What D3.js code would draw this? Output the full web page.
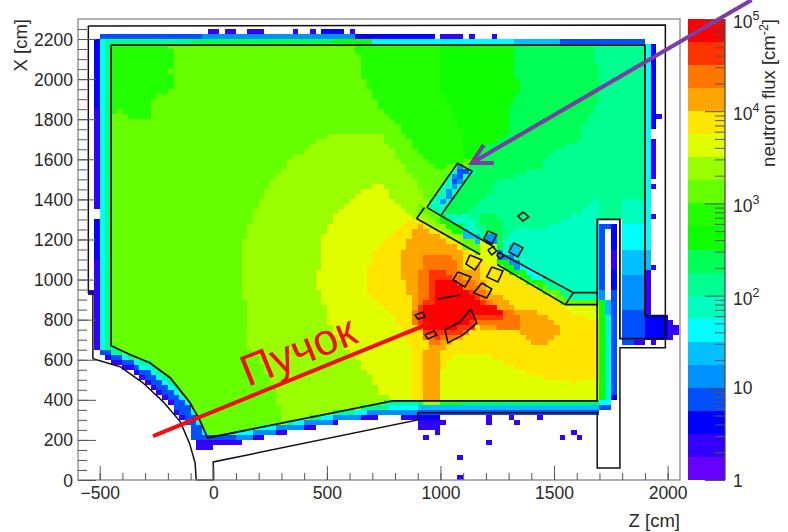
<!DOCTYPE html>
<html>
<head>
<meta charset="utf-8">
<script src="https://d3js.org/d3.v7.min.js"></script>
<style>
  body { margin: 0; background: #fff; }
  svg text { font-family: "Liberation Sans", sans-serif; fill: #2a2a2a; }
</style>
</head>
<body>
<svg width="788" height="532"></svg>
<script>
// flux palette, one colour per colorbar band (20 bands over 1..1e5), bottom to top
var palette = ["#6600ff","#3300ff","#0000ff","#0050ff","#0090ff","#00c0ff","#00ffff","#00ffc0","#00ff90","#00ff55",
               "#10ff00","#22ff00","#66ff00","#99ff00","#e0ff00","#ffe600","#ffa500","#ff7700","#ff3300","#ff0000"];

var zTicks = [-500, 0, 500, 1000, 1500, 2000];
var xTicks = [0, 200, 400, 600, 800, 1000, 1200, 1400, 1600, 1800, 2000, 2200];
var binSize = 25; // cm

// all outlines below are [z, x] in cm

// black walls
var outerWall = [[-550,2265],[1990,2270],[1990,660],[1790,660],[1790,60],[1690,60],[1690,335],[900,335],[900,300],[0,90],[0,0],[-75,0],[-80,85],[-105,185],[-145,290],[-220,390],[-310,485],[-410,565],[-530,605],[-530,935],[-550,935],[-550,2265]];
var hallOutline = [[-450,2170],[1900,2170],[1900,820],[1990,820],[1990,705],[1790,705],[1790,1300],[1690,1300],[1690,395],[790,395],[-25,210],[-60,300],[-105,390],[-190,510],[-280,585],[-365,625],[-450,670],[-450,2170]];
var wallLines = [
  [[895,1305],[1175,1125]], [[1250,1075],[1550,875],[1690,875]],
  [[940,1360],[1240,1160]], [[1275,1125],[1585,935],[1690,935]],
  [[895,1305],[930,1360]], [[1585,935],[1550,875]],
  [[940,1360],[1075,1580],[1140,1540],[1005,1325]],
  [[989,903],[1086,923]]
];
var blocks = [
  [[1365,1337],[1389,1312],[1363,1292],[1341,1317]],
  [[1209,1243],[1248,1223],[1226,1178],[1191,1203]],
  [[1323,1183],[1363,1158],[1341,1113],[1301,1138]],
  [[1130,1123],[1182,1098],[1152,1048],[1112,1078]],
  [[1077,1038],[1134,1013],[1108,963],[1055,998]],
  [[1182,983],[1226,953],[1204,908],[1147,933]],
  [[1226,1063],[1275,1043],[1253,988],[1204,1013]],
  [[1209,1148],[1231,1163],[1248,1143],[1226,1123]],
  [[1248,1123],[1262,1138],[1279,1118],[1262,1103]],
  [[923,838],[888,823],[901,803],[932,813]],
  [[932,724],[971,744],[984,724],[945,704]],
  [[1134,853],[1086,788],[1020,749],[1033,684],[1099,724],[1160,783]]
];

// flux map outlines. rim ones sit outside the hall, painted first
var rimPurple = [[-525,2200],[-450,2200],[-300,900],[100,500],[790,395],[900,395],[900,315],[734,315],[572,293],[469,265],[249,220],[132,190],[51,165],[-73,158],[-103,258],[-147,300],[-191,383],[-271,466],[-337,524],[-396,557],[-469,607],[-521,657]];
var rimBlue = [[-505,670],[-450,670],[-300,900],[100,500],[790,395],[900,395],[900,325],[734,325],[572,300],[469,275],[249,230],[132,200],[-95,208],[-117,300],[-169,366],[-249,474],[-359,562],[-440,607],[-499,632]];
var rimSlope = [[100,500],[790,395],[900,395],[900,325],[734,325],[572,300],[469,275],[249,230],[132,200],[100,205]];
var rimCyan = [[-500,2200],[-450,2200],[-300,900],[100,500],[790,395],[900,395],[900,345],[734,345],[572,325],[469,300],[249,255],[132,225],[-40,225],[-70,280],[-110,360],[-200,470],[-330,575],[-430,625],[-500,655]];
var rimGreen = [[-475,2200],[-450,2200],[-300,900],[100,500],[790,395],[900,395],[900,370],[734,360],[469,310],[249,270],[10,225],[-30,225],[-60,300],[-100,385],[-190,490],[-320,590],[-475,650]];
var rimLayers = [[1,rimPurple],[3,rimBlue],[4,rimSlope],[6,rimCyan],[8,rimGreen]];

var patchUpperLeft = [[-450,2175],[-220,2175],[-175,2130],[-190,2030],[-175,1970],[-220,1930],[-270,1880],[-270,1805],[-365,1805],[-410,1845],[-450,1830]];
var green11 = [[632,2180],[654,2006],[703,1906],[734,1856],[822,1761],[895,1647],[984,1537],[1077,1582],[1143,1597],[1204,1662],[1297,1731],[1297,1831],[1341,1931],[1328,2180]];
var green10 = [[1000,2180],[1000,2000],[1020,1900],[1100,1730],[1108,1600],[1143,1597],[1204,1662],[1297,1731],[1297,1831],[1341,1931],[1328,2180]];
var aqua9 = [[1328,2180],[1341,1931],[1297,1831],[1297,1731],[1204,1662],[1143,1597],[1130,1530],[1000,1350],[1240,1160],[1585,935],[1690,935],[1690,1300],[1790,1300],[1790,705],[1900,705],[1900,2180]];
var aqua8 = [[1671,2180],[1671,2106],[1702,2061],[1702,1896],[1645,1796],[1614,1697],[1482,1632],[1451,1562],[1249,1487],[1160,1362],[1112,1322],[1000,1340],[1240,1150],[1585,925],[1900,925],[1900,2180]];
var aqua7a = [[1265,1190],[1340,1250],[1460,1260],[1610,1325],[1690,1400],[1690,900],[1500,900],[1265,1100]];
var aqua7b = [[1005,1325],[1125,1335],[1170,1240],[1215,1150],[940,1360]];
var wedge9 = [[1240,1139],[1284,1131],[1284,1247],[1262,1314],[1174,1314],[1203,1247]];
var pillarSide7 = [[1790,1400],[1900,1400],[1900,1265],[1790,1265]];
var pillarSide6 = [[1790,1265],[1900,1265],[1900,1150],[1790,1150]];
var pillarSide5 = [[1790,1150],[1900,1150],[1900,1035],[1790,1035]];
var pillarSide4 = [[1790,1035],[1900,1035],[1900,860],[1790,860]];
var pillarSide3 = [[1790,860],[1900,860],[1900,705],[1790,705]];
var pocket2 = [[1900,820],[1990,820],[1990,705],[1900,705]];
var lime13 = [[412,1657],[478,1707],[527,1731],[734,1731],[808,1612],[879,1512],[945,1372],[895,1305],[900,390],[300,270],[280,434],[161,664],[148,763],[131,998],[131,1173],[153,1258],[175,1322],[219,1407],[280,1522],[351,1607]];
var lime14 = [[527,1322],[588,1372],[632,1422],[703,1472],[734,1482],[786,1412],[844,1347],[895,1305],[1550,875],[1690,875],[1690,395],[790,395],[734,434],[690,514],[637,599],[558,699],[505,798],[478,898],[448,998],[478,1123],[478,1223],[514,1272]];
var yellow15 = [[844,1287],[756,1198],[698,1123],[676,998],[681,933],[734,883],[800,798],[866,674],[879,514],[879,395],[1006,395],[1006,539],[1028,599],[1130,639],[1262,599],[1394,524],[1583,484],[1689,509],[1689,798],[1570,838],[1504,908],[1174,1108],[895,1307]];
var orange16 = [[902,1272],[858,1197],[829,1122],[829,1014],[858,931],[888,840],[880,782],[924,748],[954,715],[932,615],[925,395],[985,395],[1005,499],[1005,632],[1027,682],[1115,715],[1159,773],[1218,748],[1350,748],[1430,657],[1475,690],[1526,740],[1497,807],[1453,831],[1350,848],[1276,906],[1232,931],[1174,1014],[1188,1031],[1174,1064],[1108,1056],[1100,1139]];
var orange17 = [[954,1122],[1042,1131],[1078,1073],[1078,1031],[1181,956],[1203,915],[1276,848],[1350,831],[1350,748],[1262,748],[1218,782],[1159,782],[1130,732],[1027,698],[998,682],[954,682],[924,732],[880,782],[880,831],[902,898],[902,1048],[924,1064],[924,1106]];
var red18 = [[954,1048],[1027,1048],[1071,989],[1174,915],[1218,873],[1276,831],[1276,806],[1203,806],[1159,790],[1130,748],[1042,723],[983,707],[924,732],[902,798],[910,873],[954,898]];
var red19 = [[975,1006],[1056,1006],[1086,973],[1130,940],[1174,890],[1232,873],[1269,848],[1269,815],[1203,831],[1152,823],[1100,773],[1027,748],[954,748],[924,773],[924,865],[975,881]];
var lBox7 = [[940,1360],[1075,1580],[1140,1540],[1005,1325]];
var lBox4 = [[984,1347],[1020,1372],[1121,1537],[1086,1567]];
var lBox3 = [[1050,1480],[1070,1480],[1120,1545],[1100,1560]];
var blockA4 = [[1200,1175],[1250,1175],[1250,1225],[1200,1225]];
var blockB5 = [[1310,1125],[1355,1125],[1355,1175],[1310,1175]];
// strip between the two long diagonal wall lines
var strip = [
  [13,[[895,1305],[1000,1236],[1000,1278],[895,1347]]],
  [12,[[895,1347],[1000,1278],[1000,1321],[895,1390]]],
  [13,[[1000,1236],[1100,1171],[1100,1213],[1000,1278]]],
  [10,[[1000,1278],[1100,1213],[1100,1256],[1000,1321]]],
  [12,[[1100,1171],[1175,1121],[1175,1163],[1100,1213]]],
  [5,[[1100,1213],[1175,1163],[1175,1206],[1100,1256]]],
  [14,[[1175,1121],[1250,1072],[1250,1157],[1175,1206]]],
  [10,[[1250,1072],[1350,1006],[1350,1048],[1250,1114]]],
  [4,[[1250,1114],[1350,1048],[1350,1091],[1250,1157]]],
  [11,[[1350,1006],[1450,941],[1450,983],[1350,1048]]],
  [6,[[1350,1048],[1450,983],[1450,1026],[1350,1091]]],
  [12,[[1450,941],[1560,868],[1560,910],[1450,983]]],
  [8,[[1450,983],[1560,910],[1590,935],[1450,1026]]]
];
var hallLayers = [[12,hallOutline],[11,patchUpperLeft],[11,green11],[10,green10],[9,aqua9],[8,aqua8],[7,aqua7a],[7,aqua7b],[9,wedge9],
  [7,pillarSide7],[6,pillarSide6],[5,pillarSide5],[4,pillarSide4],[3,pillarSide3],[2,pocket2],
  [13,lime13],[14,lime14],[15,yellow15],[16,orange16],[17,orange17],[18,red18],[19,red19],
  [7,lBox7],[4,lBox4],[3,lBox3],[4,blockA4],[5,blockB5]].concat(strip);

// single blocks of cells [z0, z1, x0, x1, band]; null leaves the bin empty
var topRows = [[-500,-45,2200,2225,3],[-45,625,2200,2225,4],[625,975,2200,2225,2],[1000,1100,2200,2225,1],[1125,1150,2200,2225,1],[1225,1250,2200,2225,1],
  [-25,25,2225,2250,1],[50,100,2225,2250,1],[150,225,2225,2250,1],[350,375,2225,2250,1],[425,450,2225,2250,1],[475,575,2225,2250,2],[600,625,2225,2250,1],
  [-475,-100,2175,2200,8],[-100,525,2175,2200,9],[525,700,2175,2200,10],[700,1320,2175,2200,6],[1320,1525,2175,2200,5],[1525,1900,2175,2200,3]];
var sideCols = [[-525,-500,1975,2000,null],[-525,-500,1300,1350,null],[-525,-500,1850,2200,2],[-525,-500,1100,1300,2],[-550,-525,925,950,1],
  [1900,1925,1150,2175,6],[1900,1925,1050,1150,5],[1900,1925,830,1050,1],[1925,1950,1750,2175,2],[1925,1950,1500,1700,1],[1925,1950,1450,1475,1],
  [1925,1950,1300,1325,1],[1950,1975,1800,1825,1],[1925,1950,1050,1075,1]];
var pillarCells = [[1700,1725,950,1275,3],[1700,1725,895,950,4],[1700,1725,400,895,10],[1725,1750,1250,1275,3],[1725,1750,825,910,5],[1725,1750,400,825,7],
  [1750,1775,950,1275,2],[1750,1775,1050,1150,1],[1750,1775,435,950,3],[1700,1750,375,400,6],[1700,1750,350,375,3],[1750,1775,400,435,2]];
var pocketCells = [[1990,2025,705,810,1],[2025,2050,735,770,1],[1800,1900,680,705,3],[1850,1900,680,705,1],[1925,1950,675,700,1]];
var floorCells = [[900,1700,375,400,9],[900,1700,350,375,5],[900,1700,325,350,3],[925,1000,375,400,13],[1000,1100,375,400,11],[825,900,300,325,1],
  [900,1000,300,335,2],[1000,1025,275,300,1],[900,1000,250,300,1],[975,1000,225,250,1],[925,950,200,225,1],
  [1200,1225,275,335,1],[1200,1225,175,200,1],[1300,1325,300,335,1],[1325,1350,275,300,1],[1425,1450,300,325,1],
  [1525,1550,200,225,1],[1575,1600,225,250,1],[1600,1625,200,225,1],[1075,1100,100,125,1],[1075,1100,0,25,1],[-350,-325,1725,1750,11]];
var extraCells = topRows.concat(sideCols, pillarCells, pocketCells, floorCells);

// annotation lines, also in cm
var beamLine = [[-265,219],[954,783]];
var arrowLine = [[2370,2395],[1138,1582]];
var arrowHead = [[1191,1672],[1138,1582],[1235,1582]];

var svg = d3.select("svg");
var x = d3.scaleLinear().domain([-595.5, 2054.5]).range([78, 680]);
var y = d3.scaleLinear().domain([0, 2300]).range([480, 19]);
var fluxY = d3.scaleLog().domain([1, 1e5]).range([480, 19]);

// build the bins, last outline containing the bin centre wins
var cells = [];
d3.range(-600, 2050, binSize).forEach(function(z) {
  d3.range(0, 2300, binSize).forEach(function(h) {
    var p = [z + binSize / 2, h + binSize / 2], band = null;
    rimLayers.forEach(function(l) { if (d3.polygonContains(l[1], p)) band = l[0]; });
    if (d3.polygonContains(hallOutline, p)) {
      hallLayers.forEach(function(l) { if (d3.polygonContains(l[1], p)) band = l[0]; });
    } else {
      extraCells.forEach(function(c) { if (p[0] > c[0] && p[0] < c[1] && p[1] > c[2] && p[1] < c[3]) band = c[4]; });
    }
    if (band !== null) cells.push({z: z, h: h, band: band});
  });
});

svg.append("g").attr("shape-rendering", "crispEdges")
  .selectAll("rect").data(cells).enter().append("rect")
    .attr("x", function(d) { return x(d.z); })
    .attr("y", function(d) { return y(d.h + binSize); })
    .attr("width", function(d) { return x(d.z + binSize) - x(d.z); })
    .attr("height", function(d) { return y(d.h) - y(d.h + binSize); })
    .attr("fill", function(d) { return palette[d.band]; });

// walls
var line = d3.line().x(function(d) { return x(d[0]); }).y(function(d) { return y(d[1]); });
var walls = svg.append("g").attr("fill", "none").attr("stroke", "#111");
walls.append("path").attr("d", line(outerWall)).attr("stroke-width", 1.5);
walls.append("path").attr("d", line(hallOutline)).attr("stroke-width", 1.8);
wallLines.forEach(function(l) { walls.append("path").attr("d", line(l)).attr("stroke-width", 1.6); });
blocks.forEach(function(b) { walls.append("path").attr("d", line(b.concat([b[0]]))).attr("stroke-width", 1.6); });

// frame and axes
svg.append("rect").attr("x", 78).attr("y", 19).attr("width", 602).attr("height", 461)
  .attr("fill", "none").attr("stroke", "#888").attr("stroke-width", 1.3);

function styleAxis(g) {
  g.select(".domain").remove();
  g.selectAll("line").attr("stroke", "#555");
  g.selectAll("text").attr("font-size", 17.5).style("fill", "#2a2a2a");
}
svg.append("g").attr("transform", "translate(0,480)")
  .call(d3.axisBottom(x).tickValues(d3.range(-500, 2050, 100)).tickSize(-7).tickFormat(""))
  .call(styleAxis);
svg.append("g").attr("transform", "translate(0,480)")
  .call(d3.axisBottom(x).tickValues(zTicks).tickSize(-14).tickPadding(7).tickFormat(d3.format("d")))
  .call(styleAxis);
svg.append("g").attr("transform", "translate(78,0)")
  .call(d3.axisRight(y).tickValues(d3.range(0, 2300, 50)).tickSize(9).tickFormat(""))
  .call(styleAxis);
svg.append("g").attr("transform", "translate(78,0)")
  .call(d3.axisRight(y).tickValues(xTicks).tickSize(18).tickFormat(""))
  .call(styleAxis);
svg.selectAll(".ylab").data(xTicks).enter().append("text")
  .attr("x", 73).attr("y", function(d) { return y(d) + 6.5; })
  .attr("text-anchor", "end").attr("font-size", 17.5).text(function(d) { return d; });

svg.append("text").attr("x", 680).attr("y", 527).attr("text-anchor", "end").attr("font-size", 18.5).text("Z [cm]");
svg.append("text").attr("transform", "translate(27,19) rotate(-90)").attr("text-anchor", "end").attr("font-size", 18.5).text("X [cm]");

// colorbar
var bandEdges = palette.map(function(c, i) { return Math.pow(10, i / 4); });
svg.append("g").attr("shape-rendering", "crispEdges")
  .selectAll("rect").data(palette).enter().append("rect")
    .attr("x", 688).attr("width", 37)
    .attr("y", function(c, i) { return fluxY(bandEdges[i] * Math.pow(10, 0.25)); })
    .attr("height", function(c, i) { return fluxY(bandEdges[i]) - fluxY(bandEdges[i] * Math.pow(10, 0.25)); })
    .attr("fill", function(c) { return c; });
svg.append("line").attr("x1", 725).attr("x2", 725).attr("y1", 19).attr("y2", 480).attr("stroke", "#444").attr("stroke-width", 1.2);

var decades = [1, 10, 100, 1000, 10000, 100000];
var minor = [];
decades.slice(0, 5).forEach(function(d) { [2,3,4,5,6,7,8,9].forEach(function(m) { minor.push(d * m); }); });
svg.append("g").attr("transform", "translate(725,0)")
  .call(d3.axisLeft(fluxY).tickValues(minor).tickSize(10).tickFormat(""))
  .call(styleAxis);
svg.append("g").attr("transform", "translate(725,0)")
  .call(d3.axisLeft(fluxY).tickValues(decades).tickSize(20).tickFormat(""))
  .call(styleAxis);

decades.forEach(function(d, i) {
  var t = svg.append("text").attr("x", 733).attr("y", fluxY(d) + (i < 2 ? 6.5 : 9)).attr("font-size", 17.5);
  t.text(i == 0 ? "1" : "10");
  if (i > 1) t.append("tspan").attr("dy", -8).attr("font-size", 12.5).text(i);
});

var title = svg.append("text").attr("transform", "translate(775,19) rotate(-90)").attr("text-anchor", "end").attr("font-size", 18.5);
title.append("tspan").text("neutron flux [cm");
title.append("tspan").attr("dy", -7).attr("font-size", 12.5).text("-2");
title.append("tspan").attr("dy", 7).text("]");

// beam + arrow annotations
svg.append("path").attr("d", line(beamLine)).attr("stroke", "#f20d0d").attr("stroke-width", 4).attr("fill", "none");
svg.append("text").attr("transform", "translate(248,387) rotate(-22)").attr("font-size", 44)
  .style("fill", "#f20d0d").text("Пучок");
svg.append("path").attr("d", line(arrowLine)).attr("stroke", "#7a3fa5").attr("stroke-width", 4).attr("fill", "none");
svg.append("path").attr("d", line(arrowHead)).attr("stroke", "#7a3fa5").attr("stroke-width", 4).attr("fill", "none");
</script>
</body>
</html>
